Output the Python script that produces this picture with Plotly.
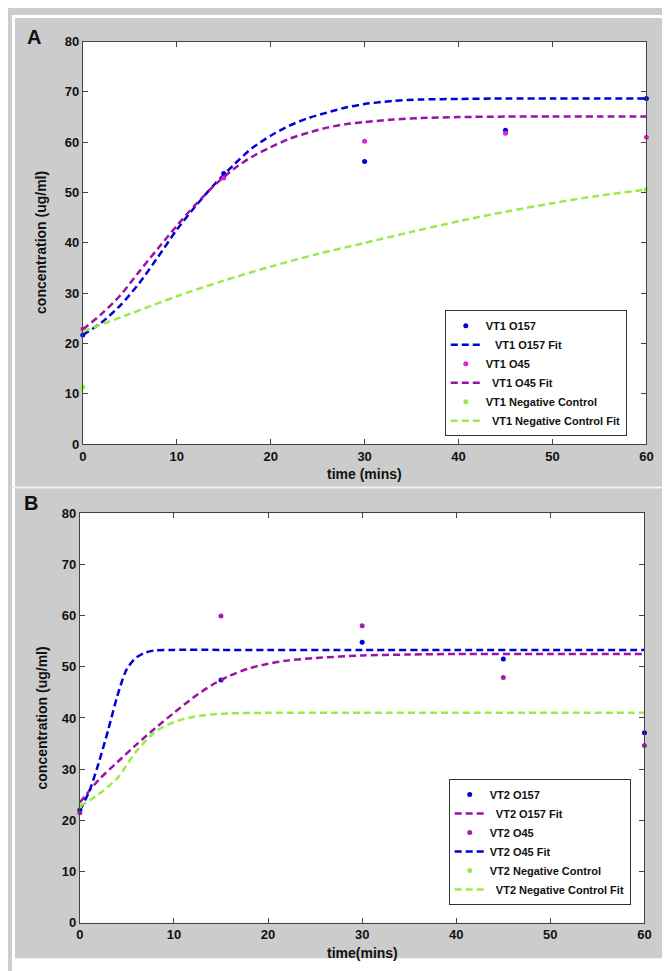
import plotly.graph_objects as go

W, H = 670, 971

# ---------------- Panel A data ----------------
a_times = [0, 15, 30, 45, 60]
a_o157 = [21.7, 53.8, 56.2, 62.4, 68.7]
a_o45 = [22.9, 52.9, 60.2, 61.8, 61.0]
a_neg_t = [0, 60]
a_neg = [11.4, 50.6]

a_fit_t = [0, 2, 4, 6, 8, 10, 12, 14, 16, 18, 20, 22, 24, 26, 28, 30, 33, 36, 40, 45, 50, 55, 60]
a_o157_fit = [21.7, 24.2, 27.6, 32.0, 37.2, 42.6, 47.3, 51.6, 55.4, 58.8, 61.3, 63.3, 64.8, 65.9,
              66.9, 67.6, 68.2, 68.5, 68.6, 68.7, 68.7, 68.7, 68.7]
a_o45_fit = [22.8, 25.9, 29.6, 34.3, 38.9, 43.4, 47.6, 51.4, 54.6, 57.1, 59.0, 60.7, 61.9, 62.9,
             63.6, 64.0, 64.5, 64.8, 65.0, 65.1, 65.1, 65.1, 65.1]
a_neg_fit_t = [0, 5, 10, 15, 20, 25, 30, 35, 40, 45, 50, 55, 60]
a_neg_fit = [22.4, 25.9, 29.4, 32.5, 35.3, 37.8, 40.0, 42.2, 44.3, 46.2, 47.9, 49.4, 50.6]

# ---------------- Panel B data ----------------
b_times = [0, 15, 30, 45, 60]
b_o157 = [22.0, 47.4, 54.8, 51.5, 37.1]
b_o45 = [21.5, 59.9, 58.0, 47.9, 34.6]
b_neg_t = [0]
b_neg = [22.8]

b_o157_fit_t = [0, 2, 4, 6, 8, 10, 12, 14, 16, 18, 20, 22, 25, 30, 35, 40, 50, 60]
b_o157_fit = [23.5, 27.9, 31.4, 34.8, 38.0, 41.0, 43.9, 46.4, 48.3, 49.7, 50.6, 51.2, 51.7, 52.2,
              52.4, 52.5, 52.5, 52.5]
b_o45_fit_t = [0, 1, 2, 3, 4, 5, 6, 7, 8, 10, 15, 20, 30, 40, 50, 60]
b_o45_fit = [21.9, 25.7, 31.2, 37.6, 44.4, 49.6, 51.8, 52.8, 53.2, 53.3, 53.3, 53.3, 53.3, 53.3,
             53.3, 53.3]
b_neg_fit_t = [0, 2, 4, 6, 8, 10, 12, 14, 16, 20, 30, 40, 50, 60]
b_neg_fit = [22.8, 25.1, 28.3, 33.5, 37.3, 39.2, 40.2, 40.7, 40.9, 41.0, 41.0, 41.0, 41.0, 41.0]

x_ticks = [0, 10, 20, 30, 40, 50, 60]
y_ticks = [0, 10, 20, 30, 40, 50, 60, 70, 80]

BLUE = "#0000d8"
MAGENTA = "#e020e0"
PURPLE = "#9a12a8"
PURPLE_DOT = "#a020b0"
GREEN = "#9aeb4a"
DASH = "7px,4px"
NB = "\u00a0"
FAM = "Liberation Sans, Arial"

fig = go.Figure()


def dots(x, y, name, color, xa, ya, legend):
    fig.add_trace(go.Scatter(x=x, y=y, mode="markers", name=name, cliponaxis=False,
                             marker=dict(color=color, size=5),
                             xaxis=xa, yaxis=ya, legend=legend))


def fit(x, y, name, color, xa, ya, legend):
    fig.add_trace(go.Scatter(x=x, y=y, mode="lines", name=name,
                             line=dict(color=color, width=2.5, dash=DASH, shape="spline", smoothing=0.8),
                             xaxis=xa, yaxis=ya, legend=legend))


# Panel A
dots(a_times, a_o157, "VT1 O157", BLUE, "x", "y", "legend")
fit(a_fit_t, a_o157_fit, NB * 3 + "VT1 O157 Fit", BLUE, "x", "y", "legend")
dots(a_times, a_o45, "VT1 O45", MAGENTA, "x", "y", "legend")
fit(a_fit_t, a_o45_fit, NB * 2 + "VT1 O45 Fit", PURPLE, "x", "y", "legend")
dots(a_neg_t, a_neg, "VT1 Negative Control", GREEN, "x", "y", "legend")
fit(a_neg_fit_t, a_neg_fit, NB * 2 + "VT1 Negative Control Fit", GREEN, "x", "y", "legend")

# Panel B
dots(b_times, b_o157, "VT2 O157", BLUE, "x2", "y2", "legend2")
fit(b_o157_fit_t, b_o157_fit, NB * 2 + "VT2 O157 Fit", PURPLE, "x2", "y2", "legend2")
dots(b_times, b_o45, "VT2 O45", PURPLE_DOT, "x2", "y2", "legend2")
fit(b_o45_fit_t, b_o45_fit, "VT2 O45 Fit", BLUE, "x2", "y2", "legend2")
dots(b_neg_t, b_neg, "VT2 Negative Control", GREEN, "x2", "y2", "legend2")
fit(b_neg_fit_t, b_neg_fit, NB * 2 + "VT2 Negative Control Fit", GREEN, "x2", "y2", "legend2")


def px(xp):
    return xp / W


def py(yp):
    return 1 - yp / H


TICKFONT = dict(family=FAM, size=13, color="#111111", weight="bold")
axis_common = dict(showline=True, linecolor="#444444", linewidth=1, mirror="ticks",
                   ticks="inside", ticklen=5, tickcolor="#444444", showgrid=False,
                   zeroline=False, tickfont=TICKFONT, fixedrange=True)

legend_common = dict(xanchor="left", yanchor="top",
                     bgcolor="white", bordercolor="#333333", borderwidth=1,
                     font=dict(size=11, weight="bold", family=FAM, color="#111111"),
                     itemwidth=30, tracegroupgap=0)

fig.update_layout(
    width=W, height=H,
    margin=dict(l=0, r=0, t=0, b=0),
    paper_bgcolor="#cccccc",
    plot_bgcolor="white",
    font=dict(family=FAM, weight="bold", color="#111111"),
    xaxis=dict(domain=[px(72), px(645)], range=[0, 60], tickvals=x_ticks, anchor="y", **axis_common),
    yaxis=dict(domain=[py(436), py(27)], range=[0, 80], tickvals=y_ticks, anchor="x", **axis_common),
    xaxis2=dict(domain=[px(69), px(643)], range=[0, 60], tickvals=x_ticks, anchor="y2", **axis_common),
    yaxis2=dict(domain=[py(922), py(506)], range=[0, 80], tickvals=y_ticks, anchor="x2", **axis_common),
    legend=dict(x=px(440), y=py(300), **legend_common),
    legend2=dict(x=px(444), y=py(776), **legend_common),
    showlegend=True,
)

# white outer frame and separator between the two panels
for x0, x1, y0, y1 in [(0, 3, 0, H), (665, W, 0, H), (0, W, 0, 3), (0, W, 958, H), (0, W, 479, 481)]:
    fig.add_shape(type="rect", xref="paper", yref="paper",
                  x0=px(x0), x1=px(x1), y0=py(y1), y1=py(y0),
                  fillcolor="#f2f2f2" if (y0, y1) == (479, 481) else "white",
                  line=dict(width=0), layer="below")

ann_font_title = dict(family=FAM, size=14, color="#111111", weight="bold")
annotations = [
    dict(text="A", x=px(22), y=py(22), font=dict(family=FAM, size=20, color="#111111", weight="bold")),
    dict(text="B", x=px(19), y=py(496), font=dict(family=FAM, size=20, color="#111111", weight="bold")),
    dict(text="time (mins)", x=px(358), y=py(466), font=ann_font_title),
    dict(text="time(mins)", x=px(356), y=py(953), font=ann_font_title),
    dict(text="concentration (ug/ml)", x=px(30), y=py(231), textangle=-90, font=ann_font_title),
    dict(text="concentration (ug/ml)", x=px(30), y=py(714), textangle=-90, font=ann_font_title),
]
for a in annotations:
    a.update(xref="paper", yref="paper", showarrow=False, xanchor="center", yanchor="middle")
fig.update_layout(annotations=annotations)

fig.write_html("out.html")
